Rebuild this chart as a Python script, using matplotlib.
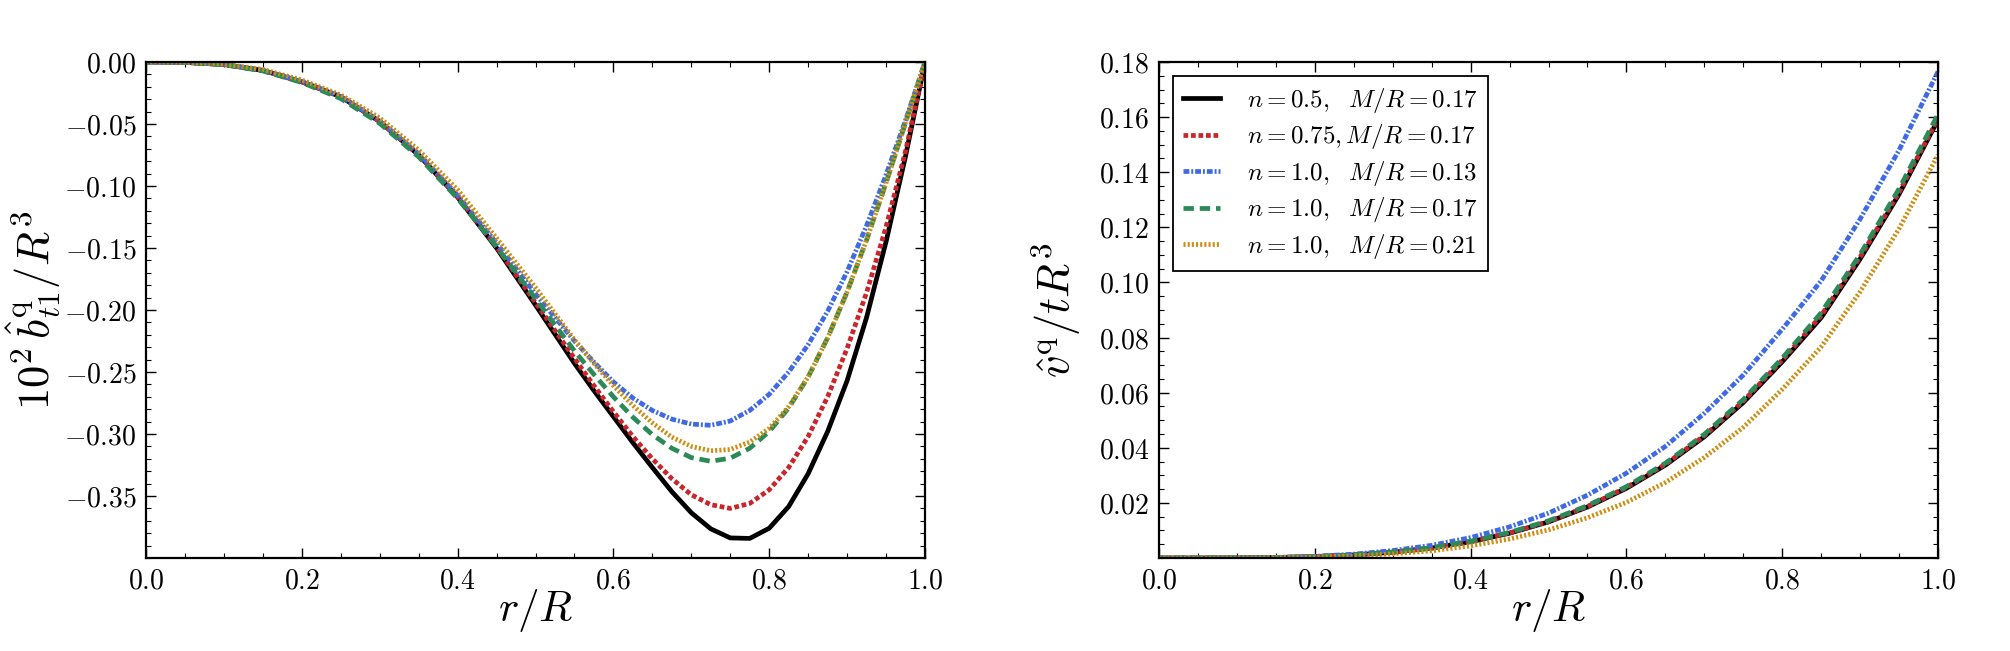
import matplotlib
matplotlib.use("Agg")
import matplotlib.pyplot as plt
from matplotlib.ticker import FixedLocator, MultipleLocator, FuncFormatter

plt.rcParams["mathtext.fontset"] = "cm"
plt.rcParams["font.family"] = ["DejaVu Serif"]
plt.rcParams["lines.scale_dashes"] = False

# --- data ---
labels = [r"$n=0.5,\ \ M/R=0.17$", r"$n=0.75, M/R=0.17$",
          r"$n=1.0,\ \ M/R=0.13$", r"$n=1.0,\ \ M/R=0.17$",
          r"$n=1.0,\ \ M/R=0.21$"]

# left panel: 10^2 b_t1^q / R^3 (finer steps near the minimum)
r_b = [0.00, 0.05, 0.10, 0.15, 0.20, 0.25, 0.30, 0.35, 0.40, 0.45, 0.50, 0.55,
       0.575, 0.600, 0.625, 0.650, 0.675, 0.700, 0.725, 0.750, 0.775, 0.800,
       0.825, 0.850, 0.875, 0.900, 0.925, 0.950, 0.975, 1.000]
b_n05_017 = [0, -0.0003, -0.0020, -0.0068, -0.0160, -0.0280, -0.0480, -0.0750, -0.1090, -0.1500, -0.1960, -0.2430,
             -0.2650, -0.2860, -0.3070, -0.3270, -0.3465, -0.3635, -0.3765, -0.3838, -0.3842, -0.3760,
             -0.3585, -0.3320, -0.2980, -0.2570, -0.2060, -0.1450, -0.0760, 0]
b_n075_017 = [0, -0.0003, -0.0020, -0.0068, -0.0160, -0.0280, -0.0480, -0.0750, -0.1085, -0.1490, -0.1940, -0.2390,
              -0.2610, -0.2820, -0.3020, -0.3200, -0.3360, -0.3490, -0.3570, -0.3600, -0.3560, -0.3450,
              -0.3270, -0.3020, -0.2700, -0.2310, -0.1860, -0.1330, -0.0720, 0]
b_n10_013 = [0, -0.0003, -0.0020, -0.0067, -0.0158, -0.0278, -0.0475, -0.0740, -0.1075, -0.1460, -0.1870, -0.2250,
             -0.2420, -0.2580, -0.2710, -0.2810, -0.2880, -0.2920, -0.2930, -0.2895, -0.2810, -0.2680,
             -0.2500, -0.2280, -0.2010, -0.1690, -0.1320, -0.0910, -0.0470, 0]
b_n10_017 = [0, -0.0003, -0.0022, -0.0072, -0.0165, -0.0295, -0.0495, -0.0765, -0.1100, -0.1490, -0.1910, -0.2330,
             -0.2520, -0.2700, -0.2865, -0.3005, -0.3115, -0.3190, -0.3220, -0.3195, -0.3115, -0.2980,
             -0.2790, -0.2540, -0.2225, -0.1855, -0.1435, -0.0975, -0.0490, 0]
b_n10_021 = [0, -0.0002, -0.0018, -0.0060, -0.0145, -0.0265, -0.0450, -0.0710, -0.1030, -0.1420, -0.1820, -0.2240,
             -0.2430, -0.2610, -0.2770, -0.2910, -0.3025, -0.3100, -0.3135, -0.3125, -0.3065, -0.2955,
             -0.2780, -0.2540, -0.2225, -0.1855, -0.1435, -0.0975, -0.0490, 0]

# right panel: v^q / t R^3
r_v = [0.00, 0.05, 0.10, 0.15, 0.20, 0.25, 0.30, 0.35, 0.40, 0.45, 0.50,
       0.55, 0.60, 0.65, 0.70, 0.75, 0.80, 0.85, 0.90, 0.95, 1.00]
v_n05_017 = [0, 0, 0.00004, 0.00017, 0.0005, 0.0011, 0.0021, 0.0036, 0.0059, 0.0090, 0.0131,
             0.0185, 0.0253, 0.0337, 0.0440, 0.0564, 0.0712, 0.0872, 0.1085, 0.1320, 0.1590]
v_n075_017 = [0, 0, 0.00004, 0.00017, 0.0005, 0.0011, 0.0021, 0.0036, 0.0060, 0.0091, 0.0132,
              0.0187, 0.0256, 0.0340, 0.0444, 0.0569, 0.0718, 0.0880, 0.1092, 0.1327, 0.1595]
v_n10_013 = [0, 0, 0.00005, 0.00022, 0.0006, 0.0014, 0.0027, 0.0046, 0.0074, 0.0113, 0.0163,
             0.0228, 0.0308, 0.0405, 0.0525, 0.0664, 0.0830, 0.1006, 0.1230, 0.1480, 0.1765]
v_n10_017 = [0, 0, 0.00004, 0.00018, 0.0005, 0.0011, 0.0022, 0.0037, 0.0061, 0.0093, 0.0135,
             0.0190, 0.0259, 0.0344, 0.0449, 0.0575, 0.0725, 0.0890, 0.1102, 0.1340, 0.1610]
v_n10_021 = [0, 0, 0.00003, 0.00012, 0.00035, 0.0008, 0.0015, 0.0026, 0.0044, 0.0069, 0.0102,
             0.0146, 0.0202, 0.0274, 0.0365, 0.0474, 0.0612, 0.0766, 0.0966, 0.1195, 0.1463]

left_yticks = [-0.35, -0.30, -0.25, -0.20, -0.15, -0.10, -0.05, 0.00]
right_yticks = [0.02, 0.04, 0.06, 0.08, 0.10, 0.12, 0.14, 0.16, 0.18]
xticks = [0.0, 0.2, 0.4, 0.6, 0.8, 1.0]

styles = [
    dict(color="black", linestyle="-"),
    dict(color="#c9252b", linestyle=(0, (3.4, 2.0))),
    dict(color="#3f6ae3", linestyle=(0, (4.2, 1.4, 1.4, 1.4))),
    dict(color="#2b8a57", linestyle=(0, (7.5, 4.2))),
    dict(color="#cc8e12", linestyle=(0, (1.5, 1.5))),
]
LW = 3.4


def style_axes(ax):
    for s in ax.spines.values():
        s.set_linewidth(1.6)
    ax.tick_params(which="both", direction="in", top=True, right=True,
                   labelsize=20, pad=7)
    ax.tick_params(which="major", length=7, width=1.0)
    ax.tick_params(which="minor", length=3.5, width=0.8)
    ax.set_xlim(0, 1)
    ax.xaxis.set_major_locator(FixedLocator(xticks))
    ax.xaxis.set_minor_locator(MultipleLocator(0.05))
    ax.xaxis.set_major_formatter(FuncFormatter(lambda v, p: f"${v:.1f}$"))
    ax.set_xlabel(r"$r/R$", fontsize=31)
    ax.xaxis.set_label_coords(0.5, -0.058)


fig = plt.figure(figsize=(20.1, 6.51), dpi=100)
ax1 = fig.add_axes([146 / 2010, 1 - 558 / 651, 779 / 2010, 496 / 651])
ax2 = fig.add_axes([1159 / 2010, 1 - 558 / 651, 779 / 2010, 496 / 651])

for y, st in zip([b_n05_017, b_n075_017, b_n10_013, b_n10_017, b_n10_021], styles):
    ax1.plot(r_b, y, linewidth=LW, **st)
for y, st, lab in zip([v_n05_017, v_n075_017, v_n10_013, v_n10_017, v_n10_021], styles, labels):
    ax2.plot(r_v, y, linewidth=LW, label=lab, **st)

style_axes(ax1)
ax1.set_ylim(-0.40, 0.0)
ax1.yaxis.set_major_locator(FixedLocator(left_yticks))
ax1.yaxis.set_minor_locator(MultipleLocator(0.01))
ax1.yaxis.set_major_formatter(FuncFormatter(lambda v, p: f"${v:.2f}$"))
ax1.set_ylabel(r"$10^2\,\hat{b}^{\rm q}_{t1}/R^3$", fontsize=32)
ax1.yaxis.set_label_coords(-0.106, 0.5)

style_axes(ax2)
ax2.set_ylim(0.0, 0.18)
ax2.yaxis.set_major_locator(FixedLocator(right_yticks))
ax2.yaxis.set_minor_locator(MultipleLocator(0.005))
ax2.yaxis.set_major_formatter(FuncFormatter(lambda v, p: f"${v:.2f}$"))
ax2.set_ylabel(r"$\hat{v}^{\rm q}/tR^3$", fontsize=32)
ax2.yaxis.set_label_coords(-0.097, 0.5)

leg = ax2.legend(loc="upper left", fontsize=18, frameon=True, fancybox=False,
                 edgecolor="black", framealpha=1, handlelength=1.5,
                 handletextpad=1.05, labelspacing=0.3, borderaxespad=0.55,
                 borderpad=0.4)
leg.get_frame().set_linewidth(1.3)

fig.savefig("out.png", dpi=100)
